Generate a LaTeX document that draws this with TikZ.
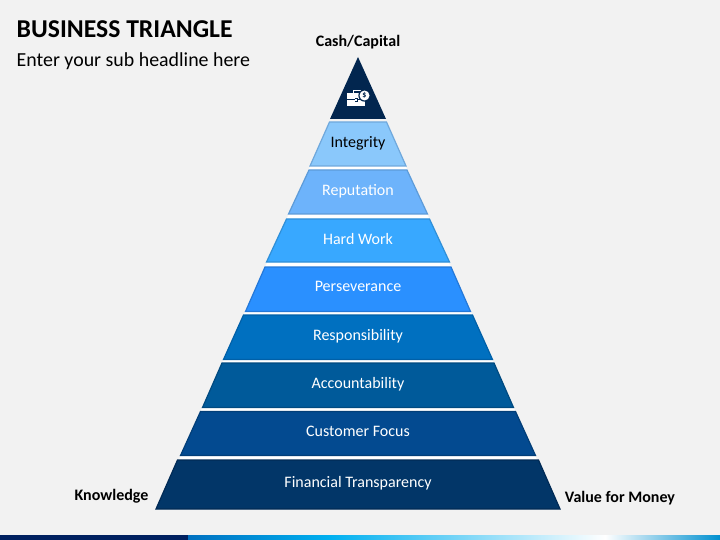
\documentclass[tikz,border=0pt]{standalone}
\usepackage{fontspec}
\setmainfont{Carlito}
\definecolor{pagebg}{HTML}{F2F2F2}
\definecolor{apexfill}{HTML}{02264F}
\definecolor{bardark}{HTML}{002060}
\tikzset{
  band/.style={line width=1.2pt,line join=miter},
  bandtext/.style={anchor=base,font=\fontsize{16}{18}\selectfont,text=white},
  sidetext/.style={anchor=base,font=\fontsize{16}{18}\selectfont\bfseries,text=black},
}
\begin{document}
\begin{tikzpicture}[x=1pt,y=-1pt]
  \useasboundingbox (0,0) rectangle (720,540);
  % background
  \fill[pagebg] (0,0) rectangle (720,540);

  % headline
  \node[anchor=base west,inner sep=0pt,font=\fontsize{25.7}{28}\selectfont\bfseries] (headline) at (16.5,38) {BUSINESS TRIANGLE};
  \node[anchor=base west,inner sep=0pt,font=\fontsize{19.9}{22}\selectfont] (subheadline) at (16.5,67) {Enter your sub headline here};

  % white behind the gaps
  \fill[white] (330,122) -- (386,122) -- (559,509) -- (157,509) -- cycle;

  % apex
  \coordinate (A) at (358,57);
  \coordinate (B) at (386,119);
  \coordinate (C) at (330,119);
  \fill[apexfill] (A) -- (B) -- (C) -- cycle;

  % bands: name, text, top y, bottom y, half width top, half width bottom, fill, line
  \foreach \name/\label/\ytop/\ybot/\wtop/\wbot/\fillcol/\linecol/\ybase in {
    integrity/Integrity/122/166/28.5/48/8AC8FB/6FA8DC/148,
    reputation/Reputation/170/214/49/69.5/6DB3FB/5D9BD8/196,
    hardwork/Hard Work/219/262/71.5/91.5/38A8FF/2F8FD8/244,
    perseverance/Perseverance/267/311.5/93/112.5/2A90FF/2478D8/291.5,
    responsibility/Responsibility/315/359.5/114.5/134.5/0070C0/0060A8/340.5,
    accountability/Accountability/363/407.5/136/155.5/005A9A/004A80/388.5,
    customerfocus/Customer Focus/411.5/455.5/157.5/177.5/034A90/023E78/436.5,
    transparency/Financial Transparency/460/509/180.5/202/023668/012A55/487.5%
  }{
    \definecolor{bandfill}{HTML}{\fillcol}
    \definecolor{bandline}{HTML}{\linecol}
    \draw[band,fill=bandfill,draw=bandline] (358-\wtop,\ytop) -- (358+\wtop,\ytop) -- (358+\wbot,\ybot) -- (358-\wbot,\ybot) -- cycle;
    \ifnum\pdfstrcmp{\name}{integrity}=0
      \node[bandtext,text=black] (\name) at (358,\ybase) {\label};
    \else
      \node[bandtext] (\name) at (358,\ybase) {\label};
    \fi
  }

  % corner labels
  \node[sidetext] (cash) at (358,46.5) {Cash/Capital};
  \node[sidetext] (knowledge) at (111.5,500.5) {Knowledge};
  \node[sidetext] (value) at (620,502.5) {Value for Money};

  % briefcase with coin
  \draw[white,line width=1pt] (353.5,94) -- (353.5,90.8) -- (360,90.8) -- (360,94);
  \fill[white] (347,93.5) rectangle (365,99.5);
  \fill[white] (347,100.5) rectangle (365,106.5);
  \fill[apexfill] (354.5,98.5) rectangle (357.5,102);
  \fill[white] (355.2,99.2) rectangle (356.8,101.3);
  \fill[apexfill] (364.5,95.5) circle (6.2);
  \fill[white] (364.5,95.5) circle (5);
  \node[inner sep=0pt,font=\fontsize{8}{8}\selectfont\bfseries,text=apexfill] (coin) at (364.5,95.5) {\$};

  % bottom bar
  \fill[bardark] (0,535) rectangle (188,540);
  \shade[left color={rgb,255:red,0;green,112;blue,192},right color={rgb,255:red,0;green,176;blue,240}] (188,535) rectangle (330,540);
  \shade[left color={rgb,255:red,0;green,176;blue,240},right color=white] (330,535) rectangle (605,540);
  \shade[left color=white,right color={rgb,255:red,0;green,144;blue,208}] (605,535) rectangle (720,540);
\end{tikzpicture}
\end{document}
